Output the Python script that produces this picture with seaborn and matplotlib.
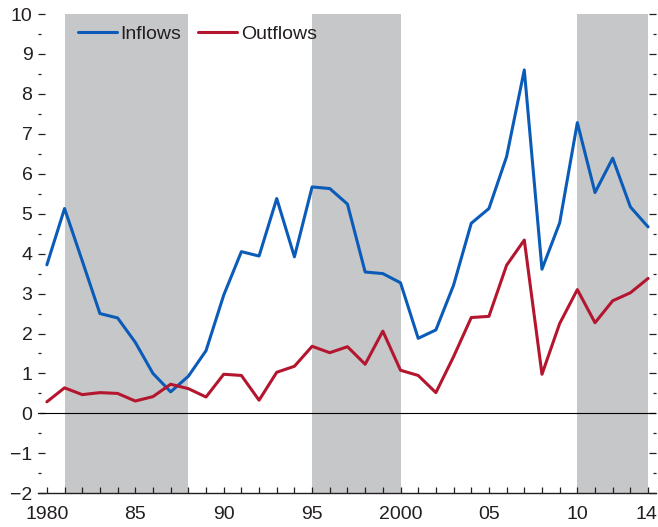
import seaborn as sns
import pandas as pd
import matplotlib.pyplot as plt
import matplotlib.transforms as mtransforms
from matplotlib.ticker import MultipleLocator, FixedLocator

# Dados
years = list(range(1980, 2015))
inflows = [3.72, 5.13, 3.82, 2.50, 2.39, 1.78, 1.00, 0.54, 0.93, 1.57,
           2.96, 4.05, 3.94, 5.38, 3.92, 5.67, 5.63, 5.24, 3.54, 3.50,
           3.27, 1.88, 2.09, 3.21, 4.76, 5.13, 6.43, 8.60, 3.61, 4.77,
           7.28, 5.53, 6.39, 5.17, 4.67]
outflows = [0.29, 0.64, 0.47, 0.52, 0.50, 0.31, 0.42, 0.73, 0.62, 0.41,
            0.98, 0.95, 0.33, 1.03, 1.18, 1.68, 1.52, 1.67, 1.23, 2.06,
            1.08, 0.95, 0.52, 1.42, 2.40, 2.43, 3.71, 4.34, 0.98, 2.25,
            3.10, 2.27, 2.82, 3.02, 3.38]
shaded = [(1981, 1988), (1995, 2000), (2010, 2014)]
tick_years = [1980, 1985, 1990, 1995, 2000, 2005, 2010, 2014]
tick_labels = ['1980', '85', '90', '95', '2000', '05', '10', '14']

df = pd.DataFrame({'year': years * 2,
                   'value': inflows + outflows,
                   'serie': ['Inflows'] * len(years) + ['Outflows'] * len(years)})

sns.set_style('white')
plt.rcParams['font.family'] = ['Liberation Sans', 'DejaVu Sans']
text_color = '#231f20'

fig = plt.figure(figsize=(6.58, 5.27), dpi=100)
ax = fig.add_axes([0.0578, 0.064, 0.9392, 0.9094])

# Faixas cinzas
for a, b in shaded:
    ax.axvspan(a, b, color='#c6c7c9', lw=0, zorder=0)

ax.axhline(0, color='black', lw=0.8, zorder=1)

sns.lineplot(data=df, x='year', y='value', hue='serie',
             palette={'Inflows': '#0a5cb8', 'Outflows': '#b3162e'},
             lw=2.2, ax=ax, zorder=3)

ax.set_xlim(1979.5, 2014.45)
ax.set_ylim(-2, 10)
ax.set_xlabel('')
ax.set_ylabel('')

ax.xaxis.set_major_locator(FixedLocator(tick_years))
ax.set_xticklabels(tick_labels)
ax.xaxis.set_minor_locator(MultipleLocator(1))
ax.yaxis.set_major_locator(MultipleLocator(1))
ax.yaxis.set_minor_locator(MultipleLocator(0.5))

for s in ['top', 'left', 'right']:
    ax.spines[s].set_visible(False)
ax.spines['bottom'].set_color(text_color)
ax.spines['bottom'].set_linewidth(1.0)

ax.tick_params(axis='x', which='both', direction='in', length=4.5, width=0.9,
               bottom=True, color=text_color, labelsize=14, labelcolor=text_color, pad=9)
ax.tick_params(axis='y', which='major', direction='in', length=5, width=0.9,
               left=True, right=True, color=text_color, labelsize=14, labelcolor=text_color, pad=4)
ax.tick_params(axis='y', which='minor', direction='in', length=2.0, width=0.9,
               left=True, right=True, color=text_color)

# puxa o "14" um pouco para dentro
last = ax.get_xticklabels()[-1]
last.set_transform(last.get_transform() + mtransforms.ScaledTranslation(-2 / 100, 0, fig.dpi_scale_trans))

leg = ax.legend(loc='upper left', ncol=2, frameon=False, fontsize=14,
                bbox_to_anchor=(0.0485, 0.996), borderpad=0, handlelength=2.0,
                handletextpad=0.18, columnspacing=0.9)
for t in leg.get_texts():
    t.set_color(text_color)

fig.savefig('out.png', dpi=100)
